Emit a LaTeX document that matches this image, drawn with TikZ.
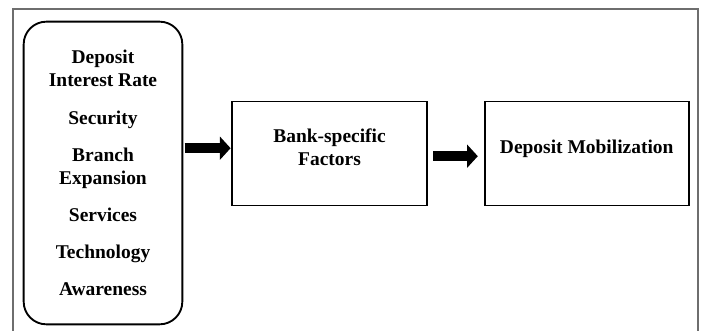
\documentclass[tikz,border=0pt]{standalone}
\usepackage{fontspec}
\setmainfont{Liberation Serif}
\usetikzlibrary{arrows.meta, positioning}
\definecolor{framegray}{RGB}{110,110,110}
\tikzset{
  basebox/.style={rectangle,draw=black,line width=1.4pt,align=center,font=\fontsize{14.6}{17.3}\selectfont\bfseries},
  listbox/.style={basebox,rounded corners=17pt,minimum width=119pt,minimum height=227pt},
  stagebox/.style={basebox,minimum height=78pt,text depth=10pt},
  blockarr/.style={-{Triangle[length=8pt,width=17pt]},line width=7.5pt,color=black},
  framelin/.style={draw=framegray,line width=0.8pt}
}

\begin{document}
\begin{tikzpicture}[x=0.75pt,y=-0.75pt]
  \useasboundingbox (0,0) rectangle (701,331);
  \draw[framelin] (13,331) -- (13,9) -- (698,9) -- (698,331);

  \node[listbox] (drivers) at (103,173) {Deposit\\Interest Rate\\[10.5pt] Security\\[10.5pt] Branch\\Expansion\\[10.5pt] Services\\[10.5pt] Technology\\[10.5pt] Awareness};
  \node[stagebox,minimum width=146pt,right=36pt of drivers,yshift=14.6pt] (factors) {Bank-specific\\Factors};
  \node[stagebox,minimum width=153pt,right=42pt of factors] (mobil) {Deposit Mobilization};

  \draw[blockarr,shorten <=1pt,shorten >=0.5pt] ([yshift=4pt]factors.west -| drivers.east) -- ([yshift=4pt]factors.west);
  \draw[blockarr,shorten <=4pt,shorten >=4.5pt] ([yshift=-2pt]factors.east) -- ([yshift=-2pt]factors.east -| mobil.west);
\end{tikzpicture}
\end{document}
